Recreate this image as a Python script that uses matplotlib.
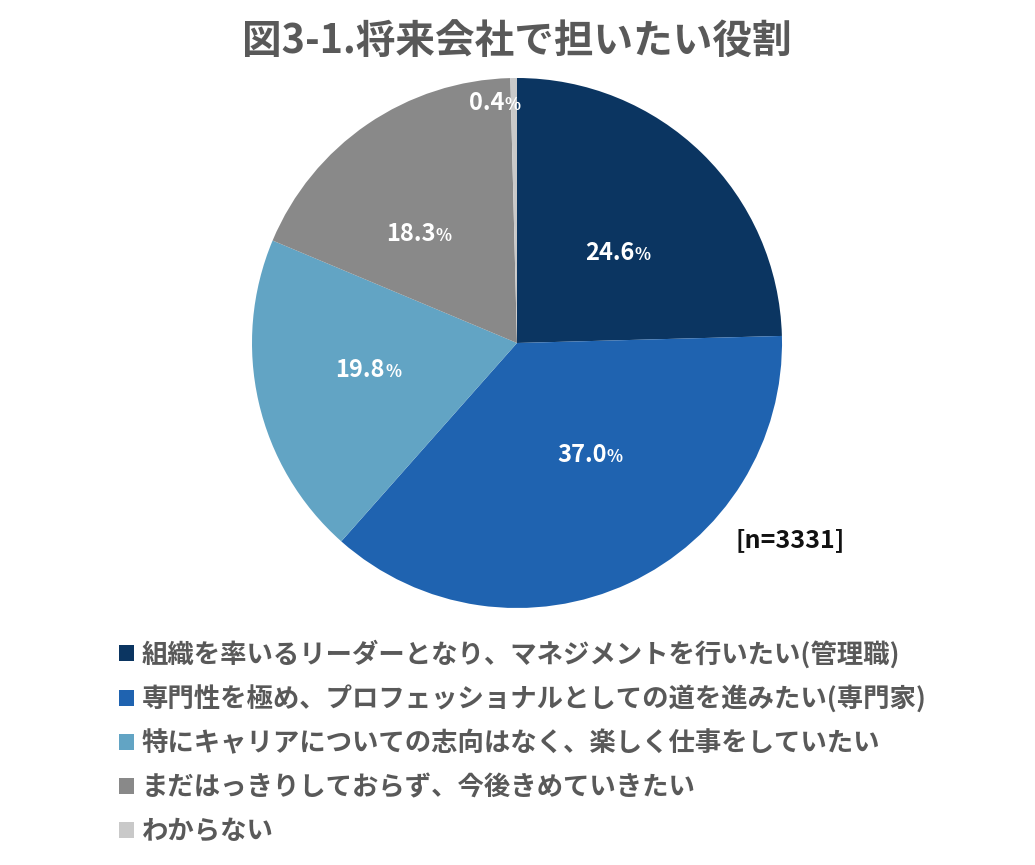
import matplotlib
matplotlib.use("Agg")
import matplotlib.pyplot as plt
import numpy as np

plt.rcParams['font.family'] = ['Noto Sans CJK JP', 'DejaVu Sans']

title = "図3-1.将来会社で担いたい役割"
categories = [
    "組織を率いるリーダーとなり、マネジメントを行いたい(管理職)",
    "専門性を極め、プロフェッショナルとしての道を進みたい(専門家)",
    "特にキャリアについての志向はなく、楽しく仕事をしていたい",
    "まだはっきりしておらず、今後きめていきたい",
    "わからない",
]
values = [24.6, 37.0, 19.8, 18.3, 0.4]
value_labels = ["24.6", "37.0", "19.8", "18.3", "0.4"]
colors = ["#0b3561", "#1f63b0", "#62a4c4", "#898989", "#c9c9c9"]
n_label = "[n=3331]"

# label placement (radius fraction, angle in degrees) - styling only
label_pos = [(0.488, 44.0), (0.489, -59.9), (0.60, -170.2), (0.574, 134.2), (0.913, 97.1)]

W, H = 1035, 865
fig = plt.figure(figsize=(W / 100, H / 100), dpi=100)
cx, cy, R = 517, 343, 265
ax = fig.add_axes([(cx - R) / W, (H - cy - R) / H, 2 * R / W, 2 * R / H])
wedges, _ = ax.pie(values, colors=colors, startangle=90, counterclock=False,
                   radius=1.0, wedgeprops=dict(linewidth=0))
ax.set_xlim(-1, 1)
ax.set_ylim(-1, 1)
ax.axis('off')

for (r, a), lab in zip(label_pos, value_labels):
    ang = np.deg2rad(a)
    x, y = r * np.cos(ang), r * np.sin(ang)
    t = ax.text(x, y, lab, ha='center', va='center', color='white', fontsize=17,
                fontweight='bold')
    ax.annotate("%", xy=(1.0, 0.42), xycoords=t, ha='left', va='center',
                color='white', fontsize=12, fontweight='bold')

fig.text(cx / W, 1 - 42 / H, title, ha='center', va='center', fontsize=28.5,
         fontweight='bold', color='#595959')
fig.text(790 / W, 1 - 540 / H, n_label, ha='center', va='center', fontsize=18,
         fontweight='bold', color='#111111')

leg = fig.legend(wedges, categories, loc='upper left',
                 bbox_to_anchor=(119 / W, 1 - 640 / H), frameon=False,
                 fontsize=19, handlelength=0.57, handleheight=0.57,
                 handletextpad=0.3, labelspacing=0.64, borderpad=0,
                 borderaxespad=0)
for t in leg.get_texts():
    t.set_color('#595959')
    t.set_fontweight('bold')

fig.savefig("out.png", dpi=100)
